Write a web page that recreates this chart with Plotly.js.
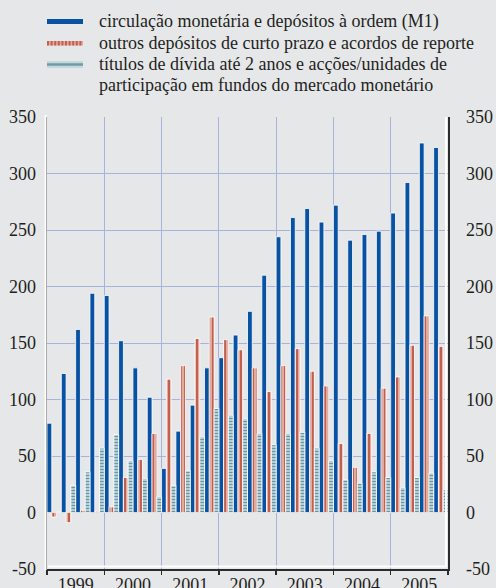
<!DOCTYPE html>
<html>
<head>
<meta charset="utf-8">
<script src="https://cdn.plot.ly/plotly-3.0.1.min.js"></script>
<style>
html,body{margin:0;padding:0;background:#e6e7e9;}
#chart{width:496px;height:588px;}
</style>
</head>
<body>
<div id="chart"></div>
<script>
// Years shown on the x axis (4 quarters each)
const years = ['1999','2000','2001','2002','2003','2004','2005'];
const quartersPerYear = 4;

// Series names
const nameM1 = 'circulação monetária e depósitos à ordem (M1)';
const nameDep = 'outros depósitos de curto prazo e acordos de reporte';
const nameTit = 'títulos de dívida até 2 anos e acções/unidades de participação em fundos do mercado monetário';

// Quarterly values
const m1 = [79,123,162,194, 192,152,128,102, 39,72,95,128, 137,157,178,210,
            244,261,269,257, 272,241,246,249, 265,292,327,323];
const otherDeposits = [-4,-9,2,1, 5,31,47,70, 118,130,154,173, 153,144,128,107,
            130,145,125,112, 61,40,70,110, 120,148,174,147];
const debtSecurities = [0.5,24,36,57, 69,46,30,14, 24,37,67,92, 86,83,70,60,
            70,71,57,46, 29,26,36,31, 22,31,35,20];

const yTicks = [-50,0,50,100,150,200,250,300,350];
const yTickText = ['-50','0','50','100','150','200','250','300','350'];

const xIdx = m1.map((_, i) => i);
const yearCenters = years.map((_, i) => i * quartersPerYear + (quartersPerYear - 1) / 2);
const nQ = years.length * quartersPerYear;

const fontFam = 'Liberation Serif, Times New Roman, serif';
const txt = '#231f20';
const gridCol = '#a7b3da';

const traces = [
  {type:'bar', name:nameM1, x:xIdx, y:m1, showlegend:false,
   marker:{color:'#0852a3', line:{color:'#ffffff', width:0.8}}},
  {type:'bar', name:nameDep, x:xIdx, y:otherDeposits, showlegend:false,
   marker:{color:'#c2604f', line:{color:'#ffffff', width:0.8},
     pattern:{shape:'|', fgcolor:'#c2604f', bgcolor:'#e3ab9d', size:4, solidity:0.5, fillmode:'replace'}}},
  {type:'bar', name:nameTit, x:xIdx, y:debtSecurities, showlegend:false,
   marker:{color:'#6f9aa6', line:{color:'#ffffff', width:0.8},
     pattern:{shape:'-', fgcolor:'#6a97a4', bgcolor:'#c3d9de', size:3, solidity:0.45, fillmode:'replace'}}},
  {type:'scatter', x:[], y:[], yaxis:'y2', showlegend:false, hoverinfo:'skip'}
];

// legend drawn as shapes + annotations (pixel -> paper conversion)
const L = 47, R = 48, T = 117, B = 19, W = 496, H = 588;
const pw = W - L - R, ph = H - T - B;
const px = v => (v - L) / pw;
const py = v => (H - B - v) / ph;

const shapes = [
  // legend symbols
  {type:'rect', xref:'paper', yref:'paper', x0:px(47), x1:px(83), y0:py(24), y1:py(19), fillcolor:'#0852a3', line:{width:0}},
  {type:'rect', xref:'paper', yref:'paper', x0:px(47), x1:px(83), y0:py(45.5), y1:py(41), fillcolor:'#e3ab9d', line:{width:0}},
  {type:'line', xref:'paper', yref:'paper', x0:px(47), x1:px(83), y0:py(43.2), y1:py(43.2), line:{color:'#c2604f', width:4.5, dash:'2px,1.6px'}},
  {type:'rect', xref:'paper', yref:'paper', x0:px(47), x1:px(83), y0:py(68), y1:py(61), fillcolor:'#c3d9de', line:{width:0}},
  {type:'line', xref:'paper', yref:'paper', x0:px(47), x1:px(83), y0:py(64.5), y1:py(64.5), line:{color:'#6f9aa6', width:2.5}},
  // white edges beside axis lines
  {type:'line', xref:'paper', yref:'paper', x0:px(45.6), x1:px(45.6), y0:py(115), y1:py(570), line:{color:'#ffffff', width:2}},
  {type:'line', xref:'paper', yref:'paper', x0:px(446), x1:px(446), y0:py(117), y1:py(567), line:{color:'#ffffff', width:2}},
  {type:'line', xref:'paper', yref:'paper', x0:px(48), x1:px(446), y0:py(566.5), y1:py(566.5), line:{color:'#ffffff', width:2}}
];

const legX = px(97);
const annotations = [
  {text:nameM1, y:py(21.5)},
  {text:nameDep, y:py(43)},
  {text:'títulos de dívida até 2 anos e acções/unidades de', y:py(64)},
  {text:'participação em fundos do mercado monetário', y:py(85)}
].map(a => Object.assign({xref:'paper', yref:'paper', x:legX, xanchor:'left', yanchor:'middle',
  showarrow:false, font:{family:fontFam, size:18, color:txt}}, a));

const layout = {
  width:W, height:H,
  margin:{l:L, r:R, t:T, b:B},
  paper_bgcolor:'#e6e7e9', plot_bgcolor:'#e6e7e9',
  barmode:'group', bargap:0, bargroupgap:0,
  font:{family:fontFam, size:18, color:txt},
  xaxis:{
    range:[-0.5, nQ - 0.5], tickmode:'array', tickvals:yearCenters, ticktext:years,
    ticks:'', showgrid:false, zeroline:false,
    showline:true, linecolor:'#2b2b2b', linewidth:1.5,
    ticklabelstandoff:-1,
    tickfont:{family:fontFam, size:18, color:txt},
    minor:{tick0:-0.5, dtick:quartersPerYear, ticks:'outside', ticklen:4, tickcolor:'#2b2b2b', tickwidth:1.5,
           showgrid:true, gridcolor:gridCol, gridwidth:1}
  },
  yaxis:{
    range:[-50, 350], tickmode:'array', tickvals:yTicks, ticktext:yTickText,
    showgrid:true, gridcolor:gridCol, gridwidth:1,
    zeroline:true, zerolinecolor:'#3a3a3a', zerolinewidth:1.5,
    showline:true, linecolor:'#2b2b2b', linewidth:1.5, ticks:'',
    ticklabelstandoff:6,
    tickfont:{family:fontFam, size:18, color:txt}
  },
  yaxis2:{
    overlaying:'y', side:'right', anchor:'x',
    range:[-50, 350], tickmode:'array', tickvals:yTicks, ticktext:yTickText,
    showgrid:false, zeroline:false,
    showline:true, linecolor:'#2b2b2b', linewidth:1.5, ticks:'',
    ticklabelstandoff:13,
    tickfont:{family:fontFam, size:18, color:txt}
  },
  shapes:shapes,
  annotations:annotations
};

Plotly.newPlot('chart', traces, layout, {displayModeBar:false, staticPlot:true});
</script>
</body>
</html>
